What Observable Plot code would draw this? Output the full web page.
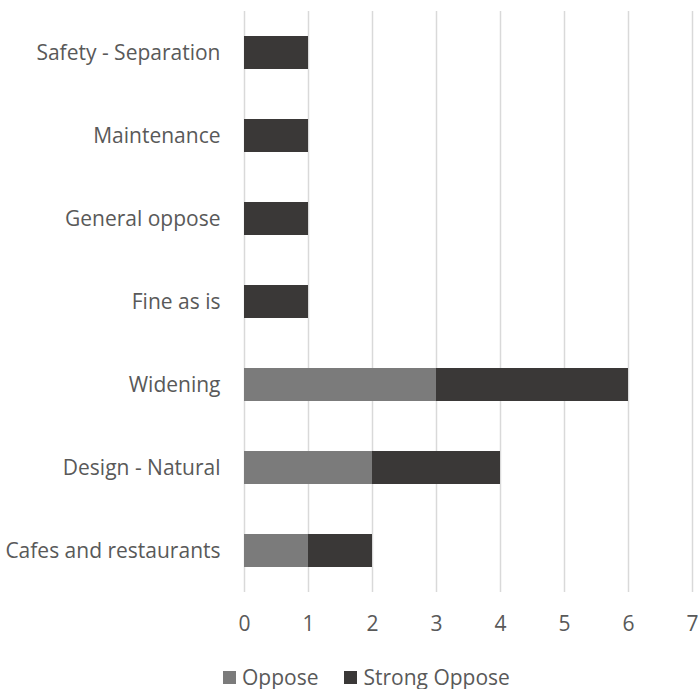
<!DOCTYPE html>
<html>
<head>
<meta charset="utf-8">
<script src="https://cdn.jsdelivr.net/npm/d3@7"></script>
<script src="https://cdn.jsdelivr.net/npm/@observablehq/plot@0.6"></script>
<style>
  body { margin: 0; background: #fff; font-family: "Open Sans", sans-serif; }
  #legend { display: flex; justify-content: flex-start; gap: 0; padding-left: 223px; margin-top: 25px; color: #595959; font-size: 21px; line-height: 24px; }
  #legend span.item { display: flex; align-items: center; margin-right: 26px; }
  #legend span.sw { width: 13px; height: 13px; display: inline-block; margin-right: 6px; }
</style>
</head>
<body>
<div id="chart"></div>
<div id="legend"></div>
<script>
const categories = ["Safety - Separation", "Maintenance", "General oppose", "Fine as is", "Widening", "Design - Natural", "Cafes and restaurants"];
const seriesNames = ["Oppose", "Strong Oppose"];
const opposeValues = [0, 0, 0, 0, 3, 2, 1];
const strongOpposeValues = [1, 1, 1, 1, 3, 2, 1];
const seriesColors = ["#7b7b7b", "#3a3837"];
const xTicks = [0, 1, 2, 3, 4, 5, 6, 7];

const data = [];
categories.forEach((c, i) => {
  data.push({category: c, series: seriesNames[0], value: opposeValues[i]});
  data.push({category: c, series: seriesNames[1], value: strongOpposeValues[i]});
});

const plot = Plot.plot({
  width: 698,
  height: 640,
  marginLeft: 244,
  marginRight: 6,
  marginTop: 11,
  marginBottom: 48,
  style: {fontFamily: "Open Sans, sans-serif", fontSize: "21px", color: "#595959", background: "#fff", overflow: "visible"},
  x: {domain: [0, 7], ticks: xTicks, label: null},
  y: {domain: categories, paddingInner: 0.6, paddingOuter: 0.3, label: null},
  color: {domain: seriesNames, range: seriesColors},
  marks: [
    Plot.ruleX(xTicks, {stroke: "#d9d9d9", strokeWidth: 1.5}),
    Plot.barX(data, Plot.stackX({y: "category", x: "value", fill: "series", order: seriesNames})),
    Plot.axisX({ticks: xTicks, tickFormat: "d", tickSize: 0, tickPadding: 24, fontSize: 21, fill: "#595959", label: null}),
    Plot.axisY({tickSize: 0, tickPadding: 24, fontSize: 21, fill: "#595959", label: null})
  ]
});
document.getElementById("chart").appendChild(plot);

const legend = document.getElementById("legend");
seriesNames.forEach((s, i) => {
  const item = document.createElement("span");
  item.className = "item";
  const sw = document.createElement("span");
  sw.className = "sw";
  sw.style.background = seriesColors[i];
  item.appendChild(sw);
  item.appendChild(document.createTextNode(s));
  legend.appendChild(item);
});
</script>
</body>
</html>
